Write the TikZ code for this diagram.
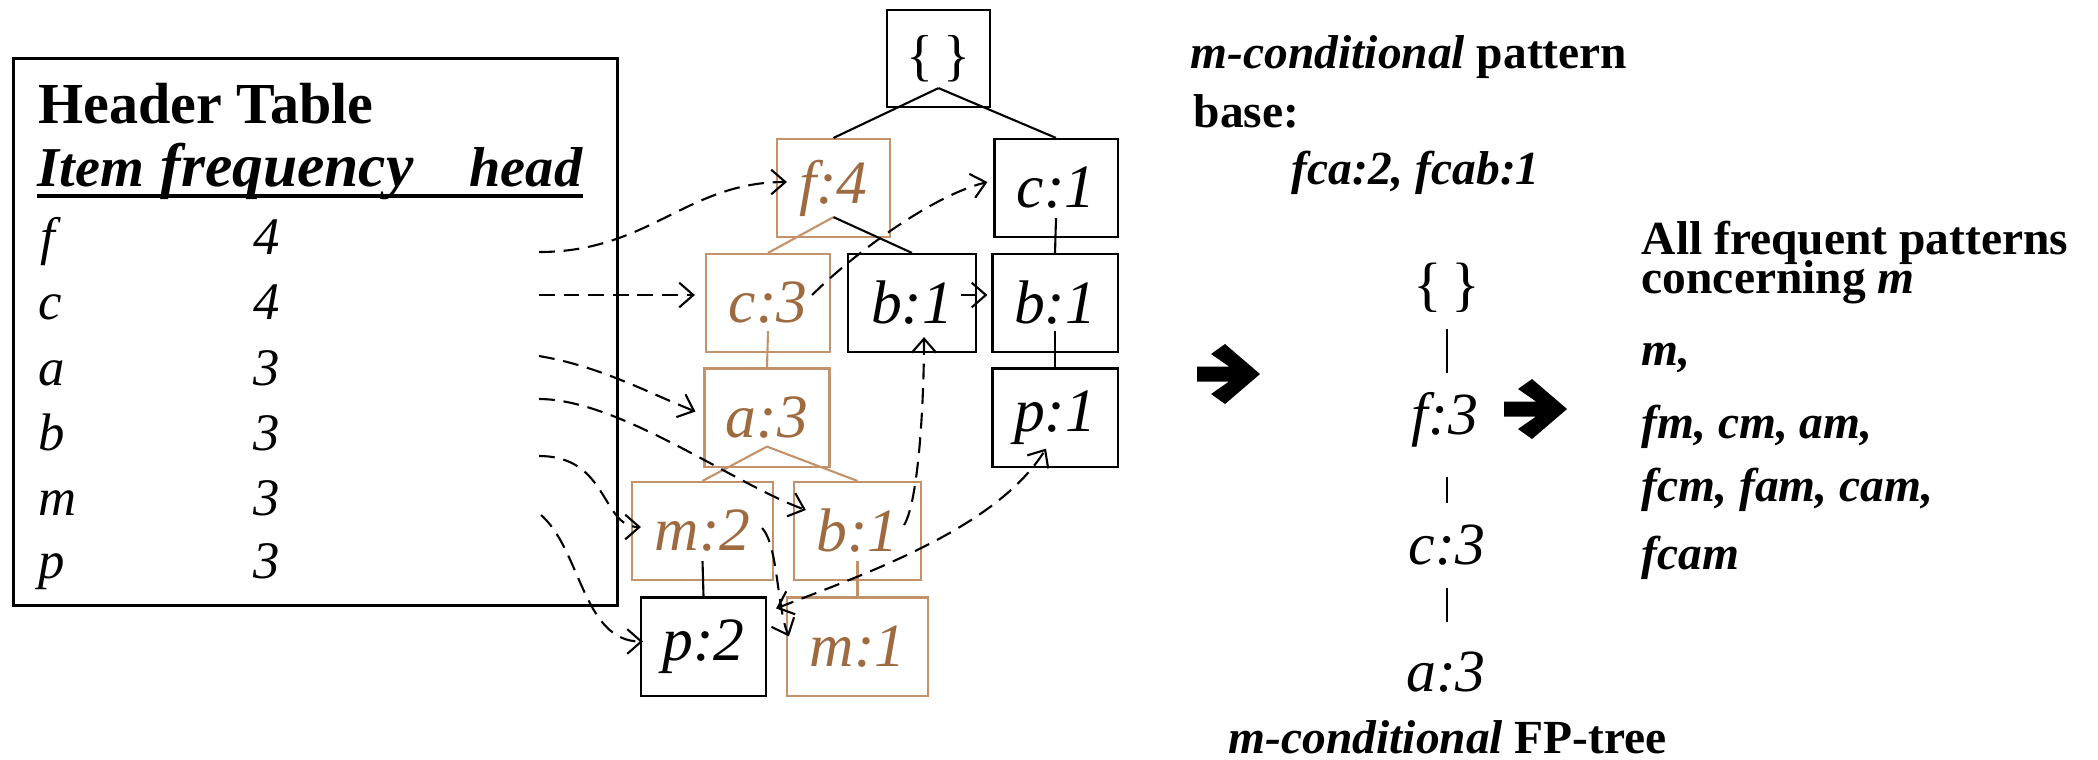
\documentclass[tikz,border=0pt]{standalone}
\usepackage{fontspec}
\setmainfont{Liberation Serif}
\usetikzlibrary{arrows, arrows.meta, calc}
\definecolor{nodebrown}{RGB}{158,106,64}
\definecolor{boxbrown}{RGB}{196,146,106}

\begin{document}
\begin{tikzpicture}[x=0.01cm, y=-0.01cm]
\tikzstyle{every node}+=[inner sep=0pt]
\tikzstyle{tbox}=[draw=black, line width=0.6pt, minimum width=1.25cm, minimum height=0.98cm, font=\fontsize{17.5}{20}\selectfont\itshape]
\tikzstyle{bbox}=[tbox, draw=boxbrown, text=nodebrown]
\tikzstyle{hlink}=[line width=0.6pt, dash pattern=on 4.5pt off 2.5pt, -{Straight Barb[length=4pt, width=7pt]}]
\tikzstyle{hdr}=[anchor=base west, font=\fontsize{16}{19}\selectfont\bfseries\itshape]
\tikzstyle{item}=[anchor=base west, font=\fontsize{15}{18}\selectfont\itshape]
\tikzstyle{rtext}=[anchor=base west, font=\fontsize{13.5}{16}\selectfont\bfseries]
\tikzstyle{ctext}=[font=\fontsize{17}{20}\selectfont]
\useasboundingbox (0,0) rectangle (2098,759);
% header table
\node[draw, line width=0.8pt, minimum width=6.03cm, minimum height=5.46cm] (htable) at (315.5,332) {};
\node[anchor=base west, font=\fontsize{16.5}{20}\selectfont\bfseries] (htitle) at (38,123) {Header Table};
\node[hdr] (hitem) at (37,186) {Item};
\node[hdr, font=\fontsize{17.5}{19}\selectfont\bfseries\itshape] (hfreq) at (160,186) {frequency};
\node[hdr] (hhead) at (469,186) {head};
\draw[line width=1.3pt] ($(hitem.base west)+(0,10)$) -- ($(hhead.base east)+(0,10)$);
\node[item] (rf) at (40,254) {f};
\node[item] (nf) at (253,254) {4};
\node[item] (rc) at (38,319) {c};
\node[item] (nc) at (253,319) {4};
\node[item] (ra) at (38,385) {a};
\node[item] (na) at (253,385) {3};
\node[item] (rb) at (38,450) {b};
\node[item] (nb) at (253,450) {3};
\node[item] (rm) at (38,515) {m};
\node[item] (nm) at (253,515) {3};
\node[item] (rp) at (38,578) {p};
\node[item] (np) at (253,578) {3};
\coordinate (hf) at (539,252);
\coordinate (hc) at (539,295);
\coordinate (ha) at (539,356);
\coordinate (hb) at (539,399);
\coordinate (hm) at (539,456);
\coordinate (hp) at (541,515);
% FP-tree
\node[tbox, minimum width=1.03cm, minimum height=0.97cm, font=\fontsize{16}{19}\selectfont] (root) at (938.5,58.5) {\{\,\}};
\node[bbox, minimum width=1.13cm] (f4) at (833.5,188) {f:4};
\node[bbox, minimum width=1.24cm] (c3) at (768,303) {c:3};
\node[tbox, minimum width=1.28cm] (b1a) at (912,303) {b:1};
\node[tbox, minimum width=1.23cm] (c1) at (1056,188) {c:1};
\node[tbox] (b1b) at (1055,303) {b:1};
\node[tbox] (p1) at (1055,417.5) {p:1};
\node[bbox] (a3) at (767,417.5) {a:3};
\node[bbox, minimum width=1.41cm] (m2) at (702.5,531) {m:2};
\node[bbox, minimum width=1.27cm] (b1c) at (857.5,531) {b:1};
\node[tbox] (p2) at (703.5,646.5) {p:2};
\node[bbox, minimum width=1.41cm] (m1) at (857.5,646.5) {m:1};
\draw[line width=0.6pt] ($(root.south)+(0,-20)$) -- (f4.north);
\draw[line width=0.6pt] ($(root.south)+(0,-20)$) -- (c1.north);
\draw[line width=0.6pt, boxbrown] ($(f4.south)+(0,-21)$) -- (c3.north);
\draw[line width=0.6pt] ($(f4.south)+(0,-21)$) -- (b1a.north);
\draw[line width=0.6pt, boxbrown] ($(c3.south)+(0,-22)$) -- (a3.north);
\draw[line width=0.6pt, boxbrown] ($(a3.south)+(0,-21)$) -- (m2.north);
\draw[line width=0.6pt, boxbrown] ($(a3.south)+(0,-21)$) -- (b1c.north);
\draw[line width=0.6pt] ($(m2.south)+(0,-20)$) -- (p2.north);
\draw[line width=0.6pt, boxbrown] ($(b1c.south)+(0,-20)$) -- (m1.north);
\draw[line width=0.6pt] ($(c1.south)+(0,-20)$) -- (b1b.north);
\draw[line width=0.6pt] ($(b1b.south)+(0,-22)$) -- (p1.north);
% node-links
\draw[hlink] (hf) .. controls +(110,0) and +(-100,0) .. ($(f4.west)+(11,-6)$);
\draw[hlink] (hc) -- ($(c3.west)+(-10,-8)$);
\draw[hlink] ($(c3.east)+(-19,-8)$) .. controls +(35,-35) and +(-60,15) .. ($(c1.west)+(-6,-6)$);
\draw[hlink] ($(b1a.east)+(-16,-8)$) -- ($(b1b.west)+(-4,-8)$);
\draw[hlink] (ha) .. controls +(60,10) and +(-50,-20) .. ($(a3.west)+(-8,-6)$);
\draw[hlink] (hb) .. controls +(80,0) and +(-70,-25) .. ($(b1c.west)+(13,-21)$);
\draw[hlink] (hm) .. controls +(70,0) and +(-40,0) .. ($(m2.west)+(10,-4)$);
\draw[hlink] (hp) .. controls +(40,35) and +(-60,0) .. ($(p2.west)+(3,-5)$);
\draw[hlink] ($(m2.east)+(-12,-3)$) .. controls +(16,17) and +(-12,-28) .. ($(m1.north west)+(3,40)$);
\draw[hlink] ($(b1c.east)+(-18,-6)$) .. controls +(15,-25) and +(0,60) .. ($(b1a.south)+(12,-16)$);
\draw[hlink, {Straight Barb[length=4pt, width=7pt]}-{Straight Barb[length=4pt, width=7pt]}] ($(p2.north east)+(9,12)$) .. controls +(90,-35) and +(-50,80) .. ($(p1.south)+(-9,-19)$);
% conditional pattern base
\node[rtext] (cpb1) at (1190,68) {\textit{m-conditional} pattern};
\node[rtext] (cpb2) at (1193,127) {base:};
\node[rtext] (cpb3) at (1291,184) {\textit{fca:2, fcab:1}};
\coordinate (arr1) at (1228,374);
\fill[shift={(arr1)}] (-31,-7.5) -- (1,-7.5) -- (-17,-20) -- (-3,-30) -- (32,0) -- (-3,30) -- (-17,20) -- (1,7.5) -- (-31,7.5) -- cycle;
% conditional FP-tree
\node[ctext] (croot) at (1447,288) {\{\,\}};
\node[ctext] (cf3) at (1445,420) {\textit{f:3}};
\node[ctext] (cc3) at (1447,545) {\textit{c:3}};
\node[ctext] (ca3) at (1446,672) {\textit{a:3}};
\draw[line width=0.5pt, shorten <=0.41cm, shorten >=0.47cm] (croot.center) -- (croot.center |- cf3.center);
\draw[line width=0.5pt, shorten <=0.57cm, shorten >=0.42cm] (croot.center |- cf3.center) -- (croot.center |- cc3.center);
\draw[line width=0.5pt, shorten <=0.43cm, shorten >=0.50cm] (croot.center |- cc3.center) -- (croot.center |- ca3.center);
\node[rtext] (cft) at (1228,753) {\textit{m-conditional} FP-tree};
\coordinate (arr2) at (1535,409);
\fill[shift={(arr2)}] (-31,-7.5) -- (1,-7.5) -- (-17,-20) -- (-3,-30) -- (32,0) -- (-3,30) -- (-17,20) -- (1,7.5) -- (-31,7.5) -- cycle;
% frequent patterns
\node[rtext] (all1) at (1641,254) {All frequent patterns};
\node[rtext] (all2) at (1641,293) {concerning \textit{m}};
\node[rtext] (pat1) at (1641,365) {\textit{m,}};
\node[rtext] (pat2) at (1641,438) {\textit{fm, cm, am,}};
\node[rtext] (pat3) at (1641,501) {\textit{fcm, fam, cam,}};
\node[rtext] (pat4) at (1641,569) {\textit{fcam}};
\end{tikzpicture}
\end{document}
